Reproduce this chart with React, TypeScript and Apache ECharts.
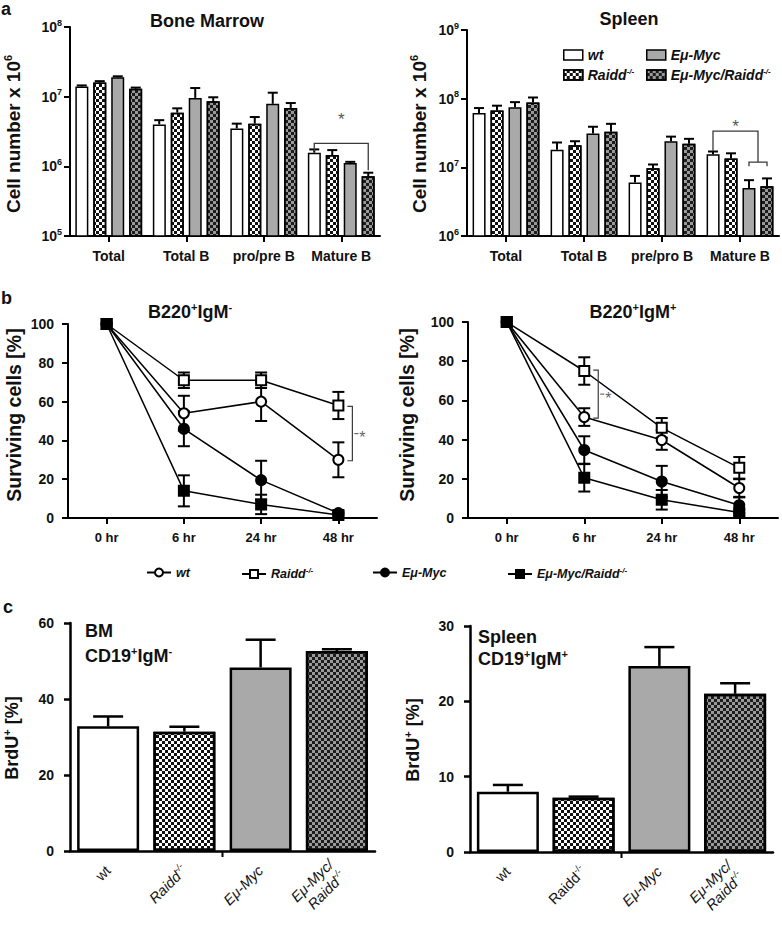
import { useEffect, useRef } from 'react';
import * as echarts from 'echarts';

const FONT = '"Liberation Sans", Arial, Helvetica, sans-serif';
const INK = '#111111';

// ---------------- a: absolute cell numbers (log scale) ----------------
const bmCategories = ['Total', 'Total B', 'pro/pre B', 'Mature B'];
const spCategories = ['Total', 'Total B', 'pre/pro B', 'Mature B'];

const bmWt = [1.4e7, 4.0e6, 3.5e6, 1.57e6];
const bmWtErr = [0.5e6, 0.6e6, 0.6e6, 0.18e6];
const bmRaidd = [1.6e7, 5.9e6, 4.1e6, 1.45e6];
const bmRaiddErr = [0.7e6, 0.9e6, 1.0e6, 0.26e6];
const bmMyc = [1.9e7, 9.6e6, 7.9e6, 1.12e6];
const bmMycErr = [0.6e6, 3.7e6, 3.5e6, 0.04e6];
const bmMycRaidd = [1.3e7, 8.6e6, 6.9e6, 7.2e5];
const bmMycRaiddErr = [0.5e6, 1.2e6, 1.2e6, 0.9e5];

const spWt = [6.2e7, 1.8e7, 6.0e6, 1.55e7];
const spWtErr = [1.1e7, 0.5e7, 1.5e6, 0.15e7];
const spRaidd = [6.7e7, 2.1e7, 9.7e6, 1.35e7];
const spRaiddErr = [1.2e7, 0.3e7, 1.3e6, 0.25e7];
const spMyc = [7.5e7, 3.1e7, 2.4e7, 5.0e6];
const spMycErr = [1.4e7, 0.8e7, 0.4e7, 1.5e6];
const spMycRaidd = [8.8e7, 3.3e7, 2.2e7, 5.3e6];
const spMycRaiddErr = [1.6e7, 1.0e7, 0.4e7, 1.6e6];

// brackets: [category, bracket level, left leg end, right leg end, left bar slot, right bar slot, asterisk level]
const bmSig = [[3, 2.13e6, 1.65e6, 8.8e5, 0, 3, 5.3e6]];
const spSig = [
  [3, 3.36e7, 1.72e7, 1.19e7, 0, 2.5, 4.49e7],
  [3, 1.19e7, 1.04e7, 1.04e7, 2, 3, 0],
];

// ---------------- b: survival time course ----------------
const hours = ['0 hr', '6 hr', '24 hr', '48 hr'];
const igmNegWt = [100, 54, 60, 30];
const igmNegWtErr = [0, 9, 10, 9];
const igmNegRaidd = [100, 71, 71, 58];
const igmNegRaiddErr = [0, 4, 4, 7];
const igmNegMyc = [100, 46, 19.5, 2.5];
const igmNegMycErr = [0, 9, 10, 1];
const igmNegMycRaidd = [100, 14, 7, 1.5];
const igmNegMycRaiddErr = [0, 8, 5, 1];

const igmPosWt = [100, 51.5, 39.8, 15.3];
const igmPosWtErr = [0, 4.5, 5, 4.5];
const igmPosRaidd = [100, 75, 46, 25.6];
const igmPosRaiddErr = [0, 7, 5, 5.5];
const igmPosMyc = [100, 34.7, 18.6, 6.5];
const igmPosMycErr = [0, 7, 8, 4];
const igmPosMycRaidd = [100, 20.5, 9.3, 2.8];
const igmPosMycRaiddErr = [0, 7, 5, 1.5];

// brackets: [category, upper value, lower value]
const igmNegSig = [[3, 57.5, 29.5]];
const igmPosSig = [[1, 75.4, 51]];

// ---------------- c: BrdU incorporation ----------------
const brduGenotypes = ['wt', 'Raidd', 'EμMyc', 'EμMycRaidd'];
const brduBM = [32.8, 31.4, 48.3, 52.6];
const brduBMErr = [2.6, 1.3, 7.3, 0.5];
const brduSp = [8.0, 7.2, 24.7, 21.0];
const brduSpErr = [0.9, 0.15, 2.5, 1.4];

// ---------------- styling helpers ----------------
const GRIDS = [
  { left: 70, top: 27, width: 310, height: 209 },
  { left: 467, top: 30, width: 312, height: 206 },
  { left: 68, top: 324, width: 309, height: 194 },
  { left: 468, top: 322, width: 310, height: 196 },
  { left: 70, top: 623, width: 305, height: 228 },
  { left: 470, top: 626, width: 303, height: 226 },
];

const checker = (c: string, s = 3) => ({
  symbol: 'rect',
  symbolSize: 1,
  symbolKeepAspect: false,
  color: c,
  dashArrayX: [[s, s], [0, s, s, 0]],
  dashArrayY: [s, 0],
  rotation: 0,
});

const FILLS: Array<() => any> = [
  () => ({ color: '#ffffff' }),
  () => ({ color: '#ffffff', decal: checker('#111111') }),
  () => ({ color: '#a9a9a9' }),
  () => ({ color: '#9a9a9a', decal: checker('#1c1c1c') }),
];

const STEP = 18; // bar pitch inside a group in panel a

const supRich = (fs: number, italic = false, weight = 'bold') => ({
  fontFamily: FONT,
  fontSize: fs,
  fontWeight: weight,
  fontStyle: italic ? 'italic' : 'normal',
  color: INK,
  fill: INK,
  padding: [0, 0, Math.round(fs * 0.95), 0],
});

const baseRich = (fs: number, italic = false, weight = 'bold') => ({
  fontFamily: FONT,
  fontSize: fs,
  fontWeight: weight,
  fontStyle: italic ? 'italic' : 'normal',
  color: INK,
  fill: INK,
});

const axisLineStyle = (w: number) => ({ color: '#000', width: w });

function errorSeries(xi: number, vals: number[], errs: number[], o: any) {
  return {
    type: 'custom',
    coordinateSystem: 'cartesian2d',
    xAxisIndex: xi,
    yAxisIndex: xi,
    z: o.z ?? 4,
    silent: true,
    data: vals.map((v, i) => [i, v, errs[i]]),
    renderItem: (_p: any, api: any) => {
      const c = api.value(0);
      const v = api.value(1);
      const e = api.value(2);
      if (!e) return null;
      const off = o.slot == null ? 0 : (o.slot - 1.5) * STEP;
      const top = api.coord([c, v + e]);
      const base = api.coord([c, o.both ? Math.max(v - e, 0) : v]);
      const x = top[0] + off;
      const st = { stroke: '#000', lineWidth: o.lw, fill: null };
      const ch: any[] = [
        { type: 'line', shape: { x1: x, y1: base[1], x2: x, y2: top[1] }, style: st },
        { type: 'line', shape: { x1: x - o.cap, y1: top[1], x2: x + o.cap, y2: top[1] }, style: st },
      ];
      if (o.both) {
        ch.push({ type: 'line', shape: { x1: x - o.cap, y1: base[1], x2: x + o.cap, y2: base[1] }, style: st });
      }
      return { type: 'group', children: ch };
    },
  };
}

function barSigSeries(xi: number, data: number[][]) {
  return {
    type: 'custom',
    coordinateSystem: 'cartesian2d',
    xAxisIndex: xi,
    yAxisIndex: xi,
    z: 6,
    silent: true,
    data,
    renderItem: (_p: any, api: any) => {
      const c = api.value(0);
      const lvl = api.coord([c, api.value(1)]);
      const yl = api.coord([c, api.value(2)])[1];
      const yr = api.coord([c, api.value(3)])[1];
      const xl = lvl[0] + (api.value(4) - 1.5) * STEP;
      const xr = lvl[0] + (api.value(5) - 1.5) * STEP;
      const ch: any[] = [
        {
          type: 'polyline',
          shape: { points: [[xl, yl], [xl, lvl[1]], [xr, lvl[1]], [xr, yr]] },
          style: { stroke: '#3a3a3a', lineWidth: 1.3, fill: null },
        },
      ];
      const star = api.value(6);
      if (star > 0) {
        const ys = api.coord([c, star])[1];
        ch.push({
          type: 'text',
          x: (xl + xr) / 2,
          y: ys + 4,
          style: { text: '*', fill: '#555', fontFamily: FONT, fontSize: 17, align: 'center', verticalAlign: 'middle' },
        });
      }
      return { type: 'group', children: ch };
    },
  };
}

function lineSigSeries(xi: number, data: number[][]) {
  return {
    type: 'custom',
    coordinateSystem: 'cartesian2d',
    xAxisIndex: xi,
    yAxisIndex: xi,
    z: 6,
    silent: true,
    data,
    renderItem: (_p: any, api: any) => {
      const c = api.value(0);
      const p1 = api.coord([c, api.value(1)]);
      const p2 = api.coord([c, api.value(2)]);
      const xv = p1[0] + 14;
      const mid = (p1[1] + p2[1]) / 2;
      return {
        type: 'group',
        children: [
          {
            type: 'polyline',
            shape: { points: [[xv - 5, p1[1]], [xv, p1[1]], [xv, p2[1]], [xv - 5, p2[1]]] },
            style: { stroke: '#3a3a3a', lineWidth: 1.2, fill: null },
          },
          {
            type: 'line',
            shape: { x1: xv + 2, y1: mid, x2: xv + 6, y2: mid },
            style: { stroke: '#666', lineWidth: 1.2 },
          },
          {
            type: 'text',
            x: xv + 10,
            y: mid + 4,
            style: { text: '*', fill: '#666', fontFamily: FONT, fontSize: 16, align: 'center', verticalAlign: 'middle' },
          },
        ],
      };
    },
  };
}

const barA = (xi: number, name: string, data: number[], slot: number) => ({
  type: 'bar',
  name,
  xAxisIndex: xi,
  yAxisIndex: xi,
  data,
  barWidth: 13,
  barGap: '38%',
  clip: true,
  z: 2,
  itemStyle: { ...FILLS[slot](), borderColor: '#000', borderWidth: 1.5 },
  emphasis: { disabled: true },
});

const LINE_SYMBOLS = ['emptyCircle', 'emptyRect', 'circle', 'rect'];
const lineB = (xi: number, name: string, data: number[], k: number) => ({
  type: 'line',
  name,
  xAxisIndex: xi,
  yAxisIndex: xi,
  data,
  symbol: LINE_SYMBOLS[k],
  symbolSize: 10,
  showSymbol: true,
  lineStyle: { color: '#000', width: 1.5 },
  itemStyle: { color: '#000', borderColor: '#000', borderWidth: 2 },
  z: 5,
  emphasis: { disabled: true },
});

const barC = (xi: number, name: string, data: number[]) => ({
  type: 'bar',
  name,
  xAxisIndex: xi,
  yAxisIndex: xi,
  barWidth: 62,
  z: 2,
  data: data.map((v, i) => ({ value: v, itemStyle: { ...FILLS[i](), borderColor: '#000', borderWidth: 2.5 } })),
  emphasis: { disabled: true },
});

const LEGEND_TEXT: Record<string, string> = {
  'B-wt': '{t|wt}',
  'B-Raidd': '{t|Raidd}{s|-/-}',
  'B-Myc': '{t|Eμ-Myc}',
  'B-MycRaidd': '{t|Eμ-Myc/Raidd}{s|-/-}',
  'L-wt': '{t|wt}',
  'L-Raidd': '{t|Raidd}{s|-/-}',
  'L-Myc': '{t|Eμ-Myc}',
  'L-MycRaidd': '{t|Eμ-Myc/Raidd}{s|-/-}',
};

const legendItem = (name: string, left: number, top: number, fs: number, bar: boolean) => ({
  data: [name],
  left,
  top,
  orient: 'horizontal',
  padding: 0,
  itemGap: 0,
  selectedMode: false,
  itemWidth: bar ? 19 : 24,
  itemHeight: bar ? 10 : 10,
  ...(bar ? { icon: 'rect', itemStyle: { borderColor: '#000', borderWidth: 1.5 } } : {}),
  formatter: (n: string) => LEGEND_TEXT[n],
  textStyle: {
    fontFamily: FONT,
    fontSize: fs,
    fontWeight: 'bold',
    fontStyle: 'italic',
    color: INK,
    rich: { t: baseRich(fs, true), s: supRich(Math.round(fs * 0.6), true) },
  },
});

const logLabel = (v: number) => `10{s|${Math.round(Math.log10(v))}}`;

const cLabel = (italicRaidd: boolean) => (v: string) => {
  if (v === 'wt') return '{n|wt}';
  if (v === 'Raidd') return italicRaidd ? '{i|Raidd}{si|-/-}' : '{n|Raidd}{sn|-/-}';
  if (v === 'EμMyc') return '{i|Eμ-Myc}';
  return '{i|Eμ-Myc/}\n{i|Raidd}{si|-/-}';
};

const cRich = {
  n: baseRich(14.5, false, 'normal'),
  i: baseRich(14.5, true, 'normal'),
  sn: supRich(9, false, 'normal'),
  si: supRich(9, true, 'normal'),
};

function catX(gridIndex: number, data: string[], fs: number, margin: number, lw: number) {
  return {
    type: 'category',
    gridIndex,
    data,
    boundaryGap: true,
    axisLine: { show: true, lineStyle: axisLineStyle(lw) },
    axisTick: { show: true, alignWithLabel: true, length: 6, lineStyle: axisLineStyle(lw) },
    axisLabel: { interval: 0, margin, color: INK, fontFamily: FONT, fontSize: fs, fontWeight: 'bold' },
    splitLine: { show: false },
  };
}

function cX(gridIndex: number, italicRaidd: boolean) {
  return {
    type: 'category',
    gridIndex,
    data: brduGenotypes,
    boundaryGap: true,
    axisLine: { show: true, lineStyle: axisLineStyle(2.5) },
    axisTick: { show: false },
    axisLabel: {
      interval: 0,
      rotate: 45,
      margin: 17,
      color: INK,
      fontFamily: FONT,
      fontSize: 14.5,
      formatter: cLabel(italicRaidd),
      rich: cRich,
      lineHeight: 17,
    },
    splitLine: { show: false },
  };
}

function logY(gridIndex: number, min: number, max: number) {
  return {
    type: 'log',
    logBase: 10,
    gridIndex,
    min,
    max,
    axisLine: { show: true, lineStyle: axisLineStyle(2) },
    axisTick: { show: true, length: 6, lineStyle: axisLineStyle(2) },
    minorTick: { show: false },
    axisLabel: {
      margin: 8,
      color: INK,
      fontFamily: FONT,
      fontSize: 14,
      fontWeight: 'bold',
      formatter: logLabel,
      rich: { s: supRich(9) },
    },
    splitLine: { show: false },
  };
}

function valY(gridIndex: number, max: number, interval: number, lw: number, margin: number) {
  return {
    type: 'value',
    gridIndex,
    min: 0,
    max,
    interval,
    axisLine: { show: true, lineStyle: axisLineStyle(lw) },
    axisTick: { show: true, length: 6, lineStyle: axisLineStyle(lw) },
    axisLabel: { margin, color: INK, fontFamily: FONT, fontSize: 14, fontWeight: 'bold' },
    splitLine: { show: false },
  };
}

const gRich = {
  s: { fontFamily: FONT, fontSize: 11, fontWeight: 'bold', fill: INK, padding: [0, 0, 10, 0] },
};

const txt = (text: string, x: number, y: number, o: any = {}) => ({
  type: 'text',
  x,
  y,
  rotation: o.rot || 0,
  silent: true,
  z: 100,
  style: {
    text,
    fill: INK,
    fontFamily: FONT,
    fontSize: o.fs || 18,
    fontWeight: 'bold',
    align: o.align || 'center',
    verticalAlign: 'middle',
    rich: gRich,
  },
});

function buildOption() {
  const R = Math.PI / 2;
  return {
    animation: false,
    backgroundColor: '#ffffff',
    textStyle: { fontFamily: FONT },
    grid: GRIDS.map((g) => ({ ...g, containLabel: false })),
    xAxis: [
      catX(0, bmCategories, 14, 13, 2),
      catX(1, spCategories, 14, 13, 2),
      catX(2, hours, 13, 13, 2),
      catX(3, hours, 13, 13, 2),
      cX(4, true),
      cX(5, false),
    ],
    yAxis: [
      logY(0, 1e5, 1e8),
      logY(1, 1e6, 1e9),
      valY(2, 100, 20, 2, 14),
      valY(3, 100, 20, 2, 14),
      valY(4, 60, 20, 2.5, 16),
      valY(5, 30, 10, 2.5, 16),
    ],
    legend: [
      legendItem('B-wt', 563, 48, 14, true),
      legendItem('B-Myc', 646, 48, 14, true),
      legendItem('B-Raidd', 563, 67, 14, true),
      legendItem('B-MycRaidd', 646, 67, 14, true),
      legendItem('L-wt', 146, 566, 12.5, false),
      legendItem('L-Raidd', 241, 566, 12.5, false),
      legendItem('L-Myc', 372, 566, 12.5, false),
      legendItem('L-MycRaidd', 507, 566, 12.5, false),
    ],
    series: [
      // a – bone marrow
      barA(0, 'B-wt', bmWt, 0),
      barA(0, 'B-Raidd', bmRaidd, 1),
      barA(0, 'B-Myc', bmMyc, 2),
      barA(0, 'B-MycRaidd', bmMycRaidd, 3),
      errorSeries(0, bmWt, bmWtErr, { slot: 0, lw: 2, cap: 5 }),
      errorSeries(0, bmRaidd, bmRaiddErr, { slot: 1, lw: 2, cap: 5 }),
      errorSeries(0, bmMyc, bmMycErr, { slot: 2, lw: 2, cap: 5 }),
      errorSeries(0, bmMycRaidd, bmMycRaiddErr, { slot: 3, lw: 2, cap: 5 }),
      barSigSeries(0, bmSig),
      // a – spleen
      barA(1, 'B-wt', spWt, 0),
      barA(1, 'B-Raidd', spRaidd, 1),
      barA(1, 'B-Myc', spMyc, 2),
      barA(1, 'B-MycRaidd', spMycRaidd, 3),
      errorSeries(1, spWt, spWtErr, { slot: 0, lw: 2, cap: 5 }),
      errorSeries(1, spRaidd, spRaiddErr, { slot: 1, lw: 2, cap: 5 }),
      errorSeries(1, spMyc, spMycErr, { slot: 2, lw: 2, cap: 5 }),
      errorSeries(1, spMycRaidd, spMycRaiddErr, { slot: 3, lw: 2, cap: 5 }),
      barSigSeries(1, spSig),
      // b – B220+IgM-
      errorSeries(2, igmNegWt, igmNegWtErr, { both: true, lw: 2, cap: 6, z: 4 }),
      errorSeries(2, igmNegRaidd, igmNegRaiddErr, { both: true, lw: 2, cap: 6, z: 4 }),
      errorSeries(2, igmNegMyc, igmNegMycErr, { both: true, lw: 2, cap: 6, z: 4 }),
      errorSeries(2, igmNegMycRaidd, igmNegMycRaiddErr, { both: true, lw: 2, cap: 6, z: 4 }),
      lineB(2, 'L-wt', igmNegWt, 0),
      lineB(2, 'L-Raidd', igmNegRaidd, 1),
      lineB(2, 'L-Myc', igmNegMyc, 2),
      lineB(2, 'L-MycRaidd', igmNegMycRaidd, 3),
      lineSigSeries(2, igmNegSig),
      // b – B220+IgM+
      errorSeries(3, igmPosWt, igmPosWtErr, { both: true, lw: 2, cap: 6, z: 4 }),
      errorSeries(3, igmPosRaidd, igmPosRaiddErr, { both: true, lw: 2, cap: 6, z: 4 }),
      errorSeries(3, igmPosMyc, igmPosMycErr, { both: true, lw: 2, cap: 6, z: 4 }),
      errorSeries(3, igmPosMycRaidd, igmPosMycRaiddErr, { both: true, lw: 2, cap: 6, z: 4 }),
      lineB(3, 'L-wt', igmPosWt, 0),
      lineB(3, 'L-Raidd', igmPosRaidd, 1),
      lineB(3, 'L-Myc', igmPosMyc, 2),
      lineB(3, 'L-MycRaidd', igmPosMycRaidd, 3),
      lineSigSeries(3, igmPosSig),
      // c – BrdU
      barC(4, 'BrdU BM', brduBM),
      errorSeries(4, brduBM, brduBMErr, { lw: 2.5, cap: 15 }),
      barC(5, 'BrdU Spleen', brduSp),
      errorSeries(5, brduSp, brduSpErr, { lw: 2.5, cap: 15 }),
    ],
    graphic: [
      txt('a', 1, 9, { align: 'left' }),
      txt('b', 1, 298, { align: 'left' }),
      txt('c', 3, 607, { align: 'left' }),
      txt('Bone Marrow', 207, 21),
      txt('Spleen', 629, 19),
      txt('B220{s|+}IgM{s|-}', 190, 312),
      txt('B220{s|+}IgM{s|+}', 633, 312),
      txt('Cell number x 10{s|6}', 13, 134, { rot: R, fs: 19 }),
      txt('Cell number x 10{s|6}', 419, 134, { rot: R, fs: 19 }),
      txt('Surviving cells [%]', 14, 415, { rot: R, fs: 19.5 }),
      txt('Surviving cells [%]', 407, 415, { rot: R, fs: 19.5 }),
      txt('BrdU{s|+} [%]', 12, 738, { rot: R }),
      txt('BrdU{s|+} [%]', 413, 740, { rot: R }),
      txt('BM', 85, 631, { align: 'left' }),
      txt('CD19{s|+}IgM{s|-}', 85, 656, { align: 'left' }),
      txt('Spleen', 478, 637, { align: 'left' }),
      txt('CD19{s|+}IgM{s|+}', 478, 659, { align: 'left' }),
      {
        type: 'line',
        silent: true,
        shape: { x1: GRIDS[4].left + GRIDS[4].width / 2, y1: GRIDS[4].top + GRIDS[4].height, x2: GRIDS[4].left + GRIDS[4].width / 2, y2: GRIDS[4].top + GRIDS[4].height + 6 },
        style: { stroke: '#000', lineWidth: 2 },
      },
      {
        type: 'line',
        silent: true,
        shape: { x1: GRIDS[5].left + GRIDS[5].width / 2, y1: GRIDS[5].top + GRIDS[5].height, x2: GRIDS[5].left + GRIDS[5].width / 2, y2: GRIDS[5].top + GRIDS[5].height + 6 },
        style: { stroke: '#000', lineWidth: 2 },
      },
    ],
  };
}

export default function App() {
  const ref = useRef<HTMLDivElement>(null);
  useEffect(() => {
    if (!ref.current) return;
    const chart = echarts.init(ref.current, null, { renderer: 'svg' });
    chart.setOption(buildOption() as any);
    return () => chart.dispose();
  }, []);
  return (
    <div
      ref={ref}
      style={{ position: 'absolute', left: 0, top: 0, width: 782, height: 935, background: '#fff' }}
    />
  );
}
